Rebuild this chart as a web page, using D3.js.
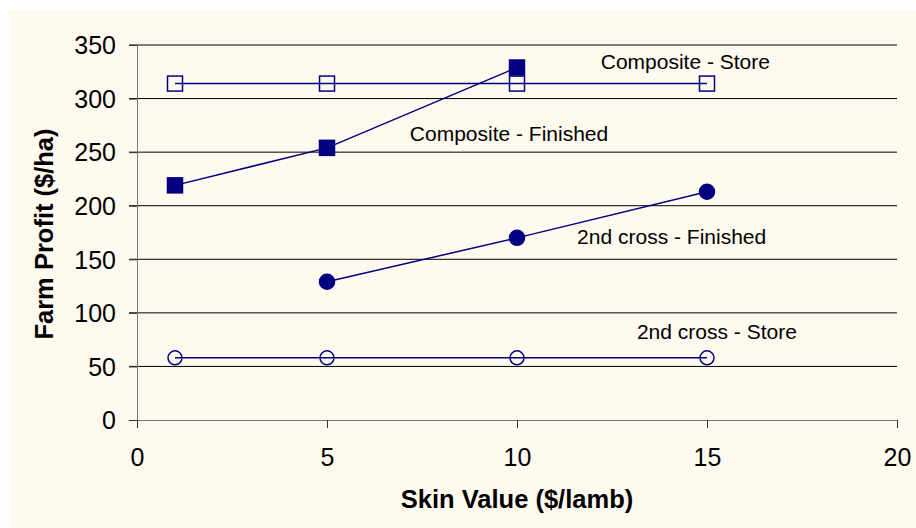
<!DOCTYPE html>
<html lang="en">
<head>
  <meta charset="UTF-8">
  <title>Farm Profit vs Skin Value</title>
  <script src="https://d3js.org/d3.v7.min.js"></script>
</head>
<body style="margin: 0; padding: 0; background-color: white;">
    <svg id="chart" width="916" height="528"></svg>

    <script>
    // Data
    const skinValues = [1, 5, 10, 15];
    const compositeStore = [314, 314, 314, 314];
    const compositeFinished = [219, 254, 329, null];
    const crossStore = [58, 58, 58, 58];
    const crossFinished = [null, 129, 170, 213];

    const xTicks = [0, 5, 10, 15, 20];
    const yTicks = [0, 50, 100, 150, 200, 250, 300, 350];

    // Series labels as they sit on the chart (data coords)
    const seriesLabels = [
      { text: "Composite - Store", x: 14.43, y: 327.3 },
      { text: "Composite - Finished", x: 9.79, y: 260.4 },
      { text: "2nd cross - Finished", x: 14.07, y: 164 },
      { text: "2nd cross - Store", x: 15.26, y: 75.3 }
    ];

    const width = 916;
    const height = 528;
    const font = "'Liberation Sans', Arial, sans-serif";
    const navy = "#000080";

    const svg = d3.select("#chart");

    // Cream panel behind everything
    svg.append("rect")
      .attr("x", 9).attr("y", 10)
      .attr("width", width - 9).attr("height", height - 10)
      .attr("fill", "#fffaf0");

    // Scales
    const x = d3.scaleLinear().domain([0, 20]).range([137, 897]);
    const y = d3.scaleLinear().domain([0, 350]).range([420, 45]);

    // Gridlines (with the little tick stub on the left)
    svg.append("g")
      .selectAll("line")
      .data(yTicks.filter(d => d > 0))
      .enter().append("line")
      .attr("x1", 129).attr("x2", x(20))
      .attr("y1", d => y(d)).attr("y2", d => y(d))
      .attr("stroke", "#000").attr("stroke-width", 1);

    // Y axis
    const yAxis = svg.append("g")
      .attr("transform", `translate(${x(0)},0)`)
      .call(d3.axisLeft(y).tickValues(yTicks).tickSize(8).tickPadding(13).tickFormat(d3.format("d")));
    yAxis.select(".domain").attr("stroke", "#777");
    yAxis.selectAll(".tick line").attr("stroke", "#333");
    yAxis.selectAll("text")
      .attr("font-family", font).attr("font-size", 25).attr("fill", "#000")
      .attr("dy", "0.35em");

    // X axis
    const xAxis = svg.append("g")
      .attr("transform", `translate(0,${y(0)})`)
      .call(d3.axisBottom(x).tickValues(xTicks).tickSize(8).tickSizeOuter(8).tickPadding(20));
    xAxis.select(".domain").attr("stroke", "#777");
    xAxis.selectAll(".tick line").attr("stroke", "#333");
    xAxis.selectAll("text")
      .attr("font-family", font).attr("font-size", 25).attr("fill", "#000");

    // Axis titles
    svg.append("text")
      .attr("x", (x(0) + x(20)) / 2).attr("y", 508)
      .attr("text-anchor", "middle")
      .attr("font-family", font).attr("font-size", 25.5).attr("font-weight", "bold")
      .text("Skin Value ($/lamb)");

    svg.append("text")
      .attr("transform", "translate(53,234) rotate(-90)")
      .attr("text-anchor", "middle")
      .attr("font-family", font).attr("font-size", 25.5).attr("font-weight", "bold")
      .text("Farm Profit ($/ha)");

    // Turn a series into points, skipping gaps
    const toPoints = vals => skinValues.map((s, i) => ({ x: s, y: vals[i] })).filter(d => d.y != null);

    const line = d3.line().x(d => x(d.x)).y(d => y(d.y));

    const series = [
      { vals: compositeStore, shape: "square", filled: false },
      { vals: compositeFinished, shape: "square", filled: true },
      { vals: crossStore, shape: "circle", filled: false },
      { vals: crossFinished, shape: "circle", filled: true }
    ];

    series.forEach(s => {
      const pts = toPoints(s.vals);
      svg.append("path")
        .datum(pts)
        .attr("d", line)
        .attr("fill", "none")
        .attr("stroke", navy)
        .attr("stroke-width", 1.5);

      const g = svg.append("g");
      if (s.shape === "square") {
        g.selectAll("rect").data(pts).enter().append("rect")
          .attr("x", d => x(d.x) - 7.5).attr("y", d => y(d.y) - 7.5)
          .attr("width", 15).attr("height", 15)
          .attr("fill", s.filled ? navy : "none")
          .attr("stroke", navy).attr("stroke-width", 1.5);
      } else {
        g.selectAll("circle").data(pts).enter().append("circle")
          .attr("cx", d => x(d.x)).attr("cy", d => y(d.y))
          .attr("r", s.filled ? 7.5 : 7)
          .attr("fill", s.filled ? navy : "none")
          .attr("stroke", navy).attr("stroke-width", 1.5);
      }
    });

    // Series labels
    svg.append("g")
      .selectAll("text")
      .data(seriesLabels)
      .enter().append("text")
      .attr("x", d => x(d.x)).attr("y", d => y(d.y))
      .attr("text-anchor", "middle")
      .attr("font-family", font).attr("font-size", 21)
      .attr("fill", "#000")
      .text(d => d.text);
    </script>
</body>
</html>
